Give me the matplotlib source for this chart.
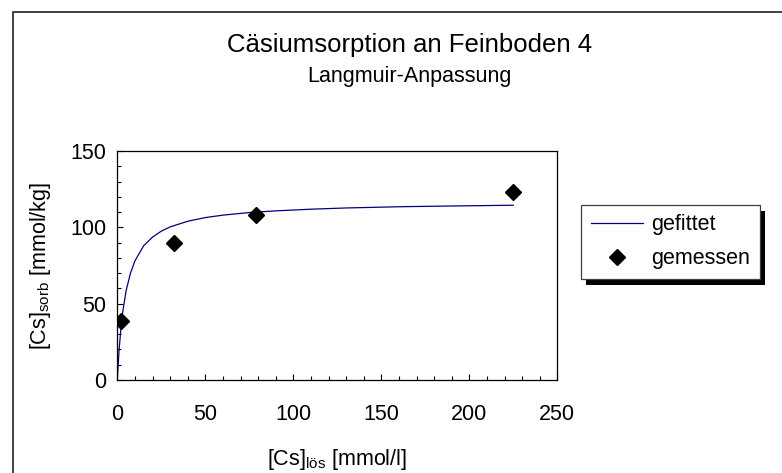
import matplotlib
matplotlib.use("Agg")
import matplotlib.pyplot as plt
from matplotlib.lines import Line2D
from matplotlib.patches import Rectangle

plt.rcParams['font.family'] = ['Liberation Sans', 'DejaVu Sans']
plt.rcParams['mathtext.fontset'] = 'custom'
plt.rcParams['mathtext.rm'] = 'Liberation Sans'
plt.rcParams['mathtext.it'] = 'Liberation Sans'

# fitted Langmuir curve
fit_x = [0, 0.5, 1, 2, 3, 5, 7.5, 10, 15, 20, 25, 30, 40, 50, 60, 75, 90, 110, 130, 160, 190, 225]
fit_y = [0, 10, 19.5, 33, 44, 58.5, 70, 78, 88, 93.6, 97.5, 100.3, 104, 106.4, 108, 109.7,
         110.8, 111.9, 112.7, 113.5, 114, 114.5]

# measured points
meas_x = [2.1, 32.2, 78.6, 225]
meas_y = [38.6, 89.5, 108, 123.3]

title = "Cäsiumsorption an Feinboden 4"
subtitle = "Langmuir-Anpassung"

fig = plt.figure(figsize=(7.82, 4.73), dpi=100)
ax = fig.add_axes([0.150, 0.1966, 0.5627, 0.4841])

ax.plot(fit_x, fit_y, color='#000080', lw=0.9, label='gefittet')
ax.plot(meas_x, meas_y, ls='none', marker='D', ms=8.5, color='black', label='gemessen')

ax.set_xlim(0, 250)
ax.set_ylim(0, 150)
ax.set_xticks(range(0, 251, 50))
ax.set_xticks(range(0, 251, 10), minor=True)
ax.set_yticks(range(0, 151, 50))
ax.set_yticks(range(0, 151, 10), minor=True)
ax.tick_params(which='both', direction='in', labelsize=15.5, width=0.8, pad=8)
ax.tick_params(which='major', length=4.5)
ax.tick_params(which='minor', length=3)
ax.tick_params(axis='x', pad=17)
for s in ax.spines.values():
    s.set_linewidth(0.9)

ax.set_xlabel(r'[Cs]$_{\mathrm{lös}}$ [mmol/l]', fontsize=15.5, labelpad=16)
ax.set_ylabel(r'[Cs]$_{\mathrm{sorb}}$ [mmol/kg]', fontsize=15.5, labelpad=12)

fig.text(0.524, 0.905, title, ha='center', va='center', fontsize=18.5)
fig.text(0.524, 0.838, subtitle, ha='center', va='center', fontsize=15.5)

leg = ax.legend(loc='upper left', bbox_to_anchor=(0.743, 0.567), bbox_transform=fig.transFigure,
                borderaxespad=0, numpoints=1, fontsize=15.5, handlelength=2.45,
                handletextpad=0.35, labelspacing=0.6, borderpad=0.45, fancybox=False,
                edgecolor='#404040', framealpha=1)
leg.get_frame().set_linewidth(0.9)

# legend shadow, drawn on the figure behind the axes
fig.canvas.draw()
bb = leg.get_window_extent()
shadow = Rectangle((bb.x0 + 5, bb.y0 - 6), bb.width, bb.height, transform=None,
                   facecolor='black', edgecolor='none', zorder=-1)
fig.add_artist(shadow)

# outer chart border
fig.add_artist(Line2D([13 / 782, 13 / 782, 1.1], [-0.1, 1 - 12 / 473, 1 - 12 / 473],
                      transform=fig.transFigure, color='#202020', lw=1.2))

fig.savefig('out.png', dpi=100)
